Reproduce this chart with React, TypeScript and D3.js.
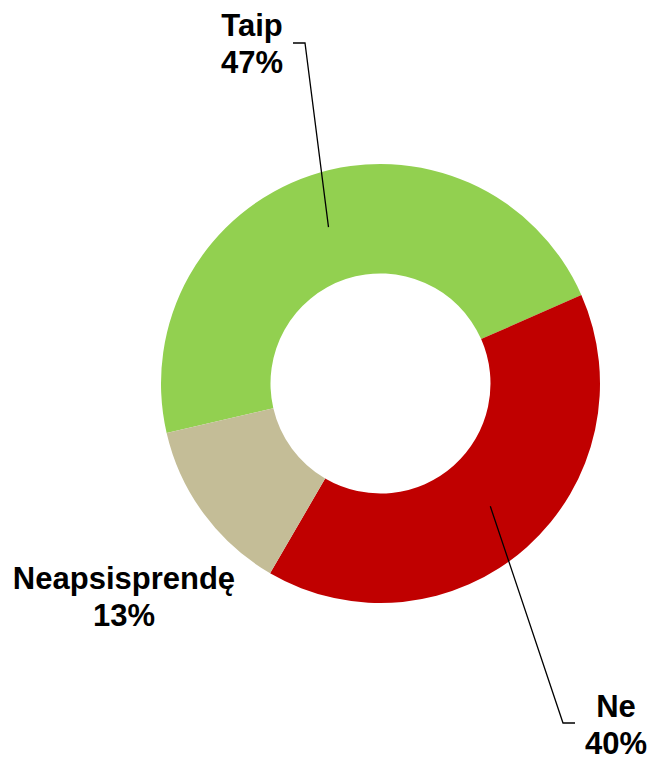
import React from "react";
import * as d3 from "d3";

const categories = ["Taip", "Ne", "Neapsisprendę"];
const values = [47, 40, 13];
const percentLabels = ["47%", "40%", "13%"];
const colors = ["#92D050", "#C00000", "#C4BD97"];

const W = 652;
const H = 757;
const CX = 380.5;
const CY = 383.5;
const R_OUT = 219.5;
const R_IN = 110;
const FONT = 31;

// label layout: text center x, first baseline y, optional leader elbow
const labelLayout = [
  { x: 252, y: 35.5, elbow: [305, 43], end: [293, 43] },
  { x: 616, y: 717, elbow: [563, 723], end: [575, 723] },
  { x: 124, y: 589, elbow: null, end: null },
];

export default function App() {
  const pie = d3
    .pie<number>()
    .sort(null)
    .value((d) => d)
    .startAngle((-103 * Math.PI) / 180)
    .endAngle((-103 * Math.PI) / 180 + 2 * Math.PI);
  const arcs = pie(values);
  const arc = d3.arc<d3.PieArcDatum<number>>().innerRadius(R_IN).outerRadius(R_OUT);

  return (
    <svg
      width={W}
      height={H}
      style={{ position: "absolute", left: 0, top: 0 }}
      fontFamily="'Liberation Sans', Arial, sans-serif"
    >
      <rect width={W} height={H} fill="#fff" />
      <g transform={`translate(${CX},${CY})`}>
        {arcs.map((a, i) => (
          <path key={i} d={arc(a) || ""} fill={colors[i]} />
        ))}
      </g>
      {arcs.map((a, i) => {
        const L = labelLayout[i];
        if (!L.elbow) return null;
        const [cx, cy] = arc.centroid(a);
        const pts = [
          [cx + CX, cy + CY],
          L.elbow,
          L.end,
        ];
        return (
          <polyline
            key={"l" + i}
            points={pts.map((p) => p.join(",")).join(" ")}
            fill="none"
            stroke="#000"
            strokeWidth={1.3}
          />
        );
      })}
      {categories.map((c, i) => {
        const L = labelLayout[i];
        return (
          <text
            key={"t" + i}
            textAnchor="middle"
            fontWeight="bold"
            fontSize={FONT}
            fill="#000"
          >
            <tspan x={L.x} y={L.y}>
              {c}
            </tspan>
            <tspan x={L.x} y={L.y + 37}>
              {percentLabels[i]}
            </tspan>
          </text>
        );
      })}
    </svg>
  );
}
